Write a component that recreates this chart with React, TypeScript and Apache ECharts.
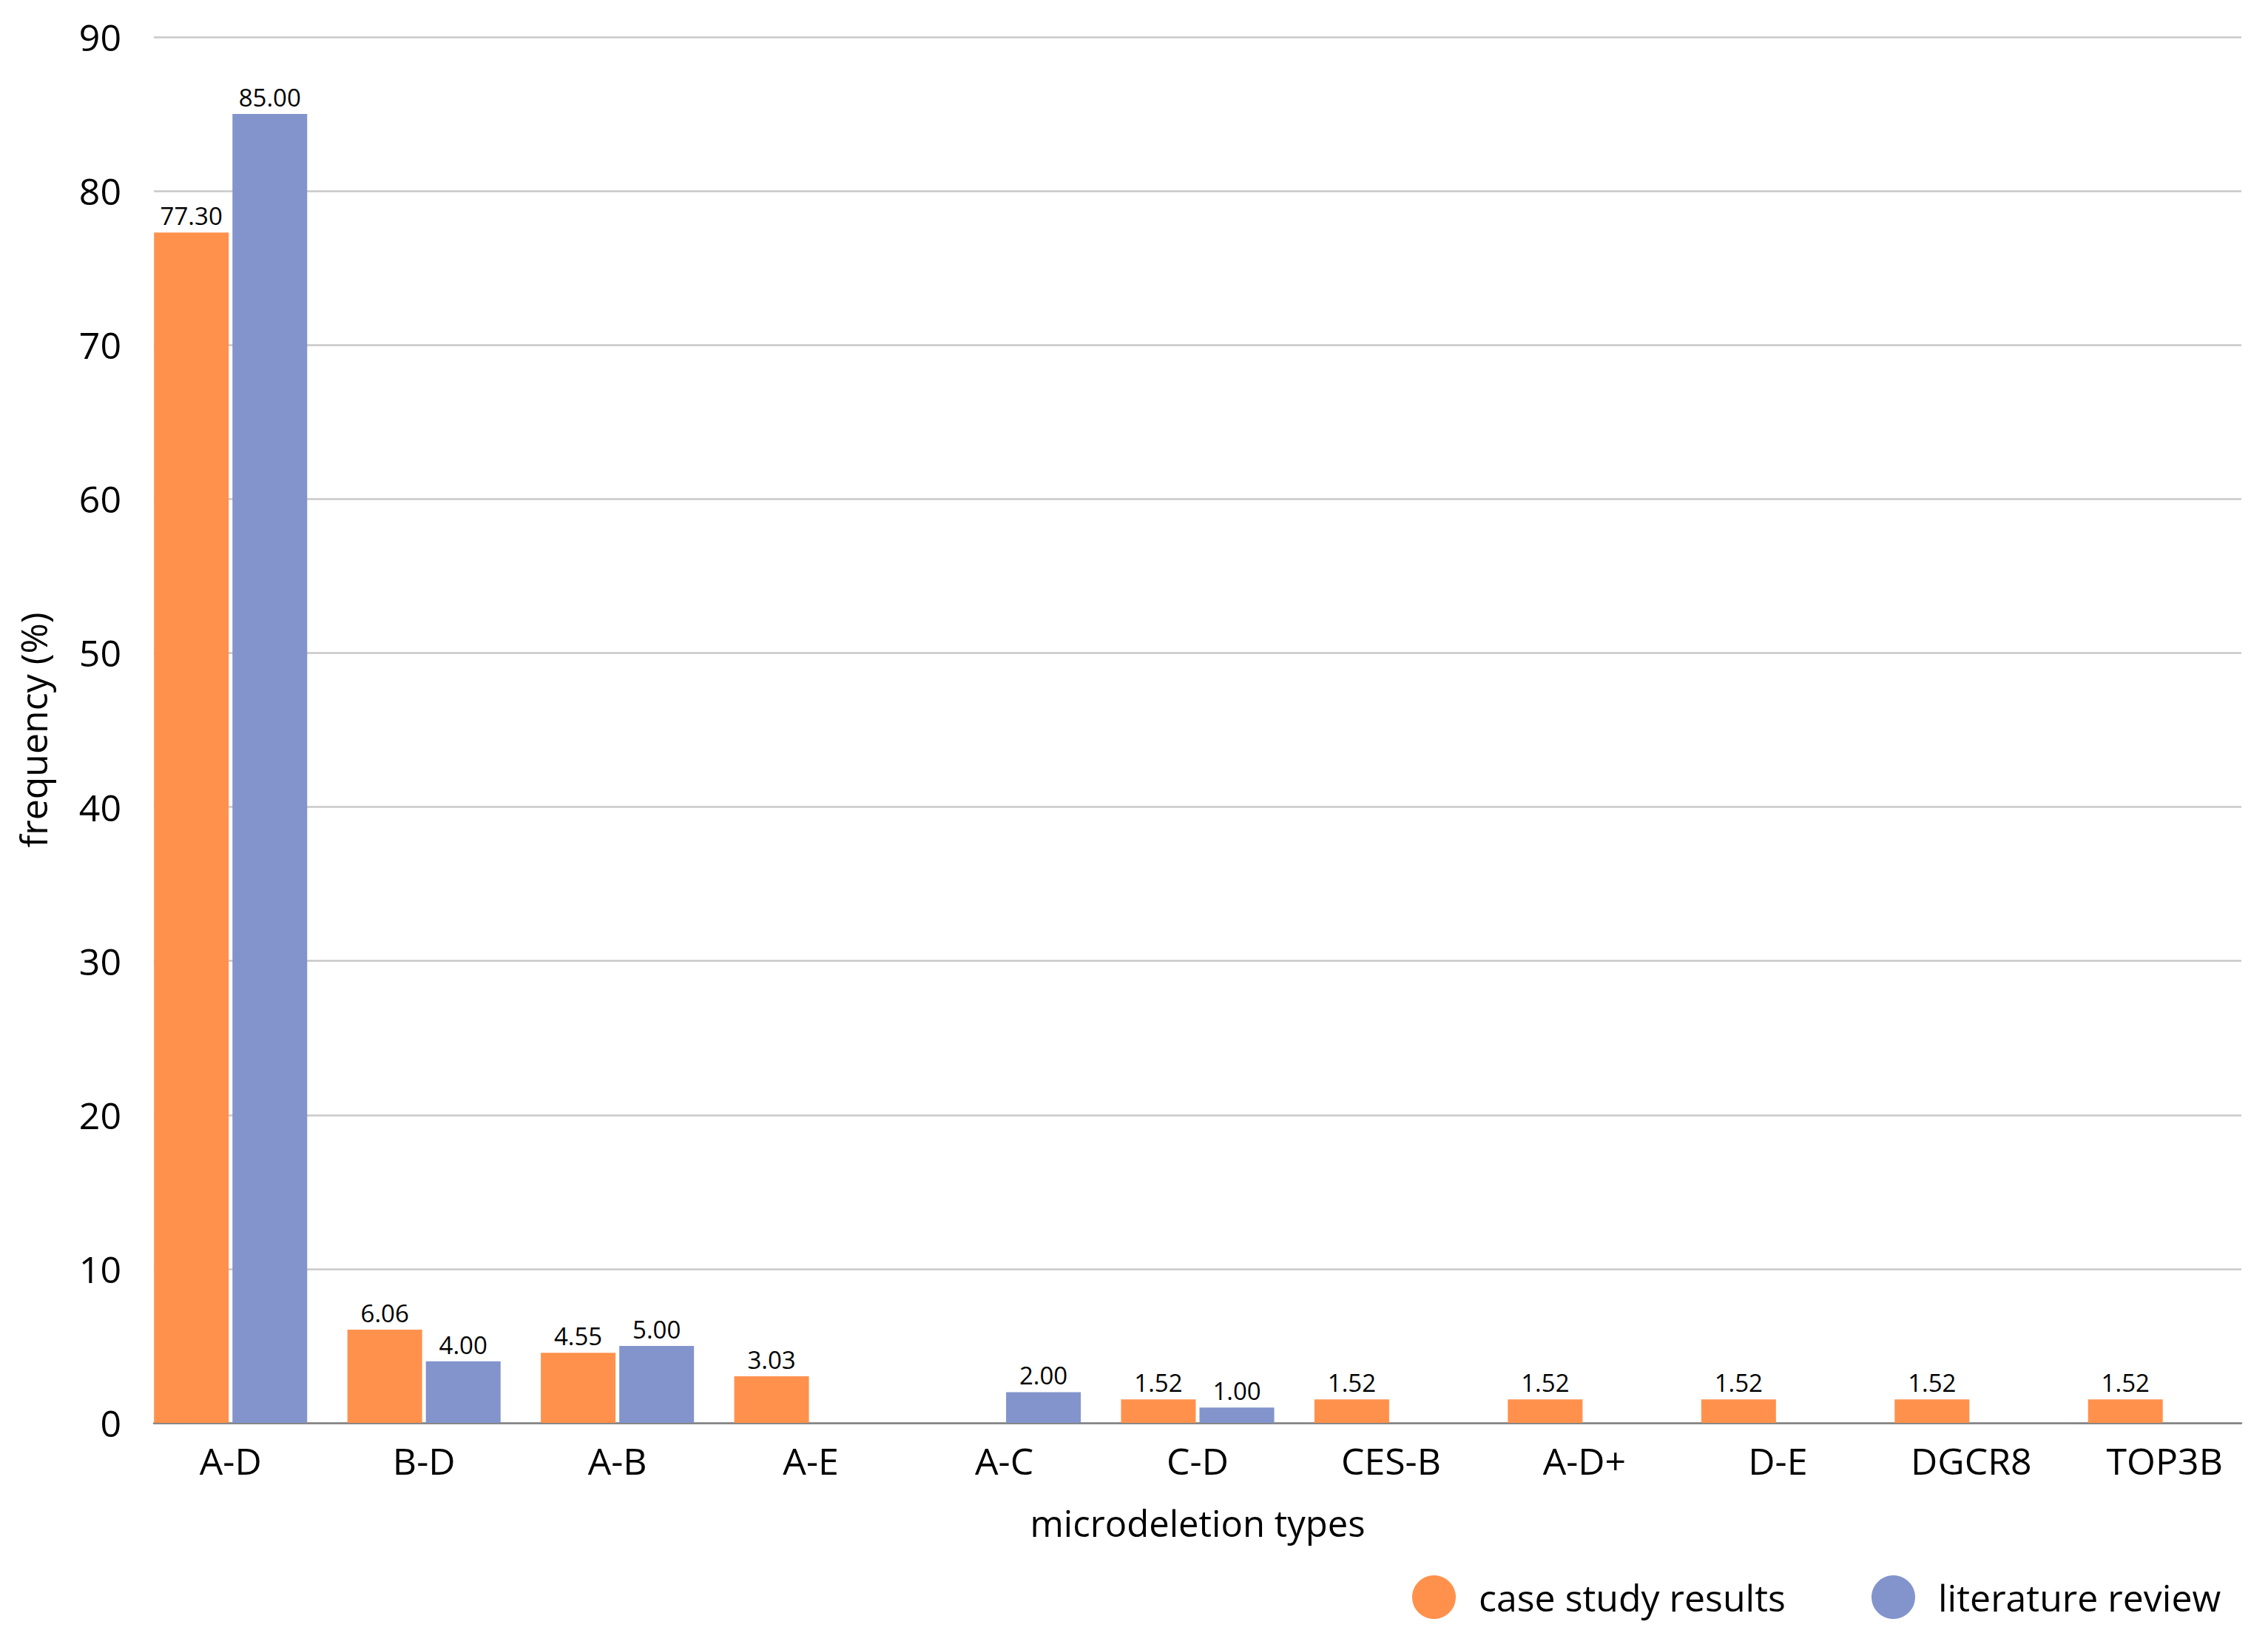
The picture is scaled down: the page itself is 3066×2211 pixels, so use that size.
import React, { useEffect, useRef } from "react";
import * as echarts from "echarts";

const categories = ["A-D", "B-D", "A-B", "A-E", "A-C", "C-D", "CES-B", "A-D+", "D-E", "DGCR8", "TOP3B"];
const caseStudy = [77.3, 6.06, 4.55, 3.03, null, 1.52, 1.52, 1.52, 1.52, 1.52, 1.52];
const literature = [85.0, 4.0, 5.0, null, 2.0, 1.0, null, null, null, null, null];
const seriesNames = ["case study results", "literature review"];
const yTicks = { min: 0, max: 90, interval: 10 };

const FONT = "Open Sans";
const ORANGE = "#FF914C";
const BLUE = "#8294CB";

export default function App() {
  const ref = useRef<HTMLDivElement>(null);
  useEffect(() => {
    document.body.style.margin = "0";
    const chart = echarts.init(ref.current!, null, { renderer: "svg" });
    const label = {
      show: true,
      position: "top",
      distance: 6,
      fontSize: 33,
      fontFamily: FONT,
      color: "#000",
      formatter: (p: any) => (p.value == null ? "" : Number(p.value).toFixed(2)),
    };
    chart.setOption({
      animation: false,
      backgroundColor: "#fff",
      textStyle: { fontFamily: FONT },
      grid: [
        { left: 181, right: 9, top: 50, bottom: 288 },
        { left: 208, right: 36, top: 50, bottom: 288 },
      ],
      xAxis: [
        {
          type: "category",
          gridIndex: 0,
          data: categories,
          axisLine: { show: false },
          axisTick: { show: false },
          axisLabel: { fontSize: 50, color: "#000", margin: 26, fontFamily: FONT, interval: 0 },
          name: "microdeletion types",
          nameLocation: "middle",
          nameGap: 110,
          nameTextStyle: { fontSize: 49, color: "#000", fontFamily: FONT },
        },
        {
          type: "category",
          gridIndex: 1,
          data: categories,
          axisLine: { show: true, lineStyle: { color: "#7F7F7F", width: 2.5 } },
          axisTick: { show: false },
          axisLabel: { show: false },
        },
      ],
      yAxis: [
        {
          type: "value",
          gridIndex: 0,
          ...yTicks,
          show: false,
          splitLine: { show: false },
        },
        {
          type: "value",
          gridIndex: 1,
          ...yTicks,
          axisLine: { show: false },
          axisTick: { show: false },
          axisLabel: { fontSize: 50, color: "#000", margin: 44, fontFamily: FONT },
          splitLine: { show: true, lineStyle: { color: "#C8C8C8", width: 2.5 } },
          name: "frequency (%)",
          nameLocation: "middle",
          nameGap: 138,
          nameTextStyle: { fontSize: 50, color: "#000", fontFamily: FONT },
        },
      ],
      legend: [
        {
          data: [seriesNames[0]],
          left: 1909,
          top: 2129,
          icon: "circle",
          itemWidth: 59,
          itemHeight: 59,
          padding: 0,
          textStyle: { fontSize: 50, color: "#000", fontFamily: FONT, padding: [0, 0, 0, 26] },
        },
        {
          data: [seriesNames[1]],
          left: 2530,
          top: 2129,
          icon: "circle",
          itemWidth: 59,
          itemHeight: 59,
          padding: 0,
          textStyle: { fontSize: 50, color: "#000", fontFamily: FONT, padding: [0, 0, 0, 26] },
        },
      ],
      series: [
        {
          name: seriesNames[0],
          type: "bar",
          xAxisIndex: 0,
          yAxisIndex: 0,
          data: caseStudy,
          itemStyle: { color: ORANGE },
          barCategoryGap: "20.8%",
          barGap: "5%",
          label,
        },
        {
          name: seriesNames[1],
          type: "bar",
          xAxisIndex: 0,
          yAxisIndex: 0,
          data: literature,
          itemStyle: { color: BLUE },
          barCategoryGap: "20.8%",
          barGap: "5%",
          label,
        },
      ],
    });
    return () => chart.dispose();
  }, []);
  return <div ref={ref} style={{ width: 3066, height: 2211 }} />;
}
